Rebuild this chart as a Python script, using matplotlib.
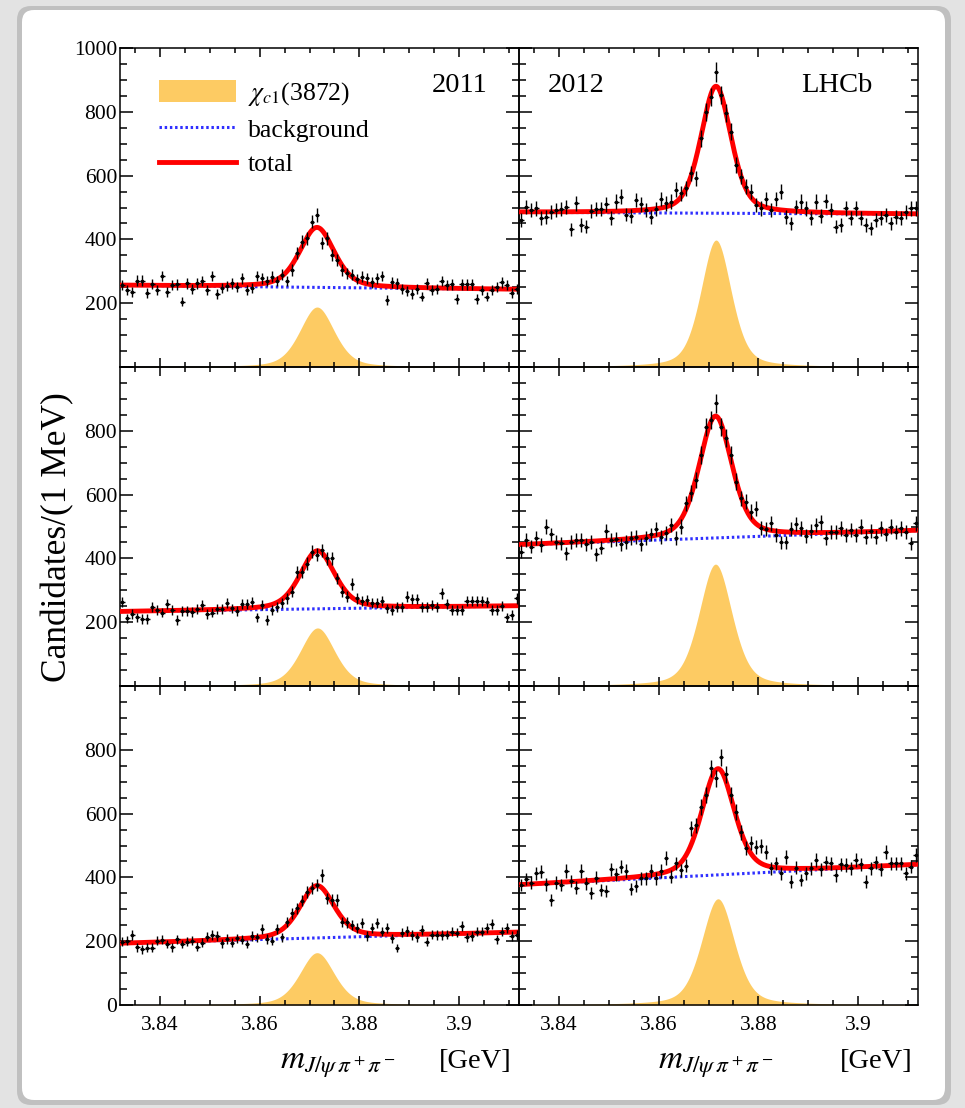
import numpy as np
import matplotlib.pyplot as plt
from matplotlib.patches import Patch, FancyBboxPatch
from matplotlib.lines import Line2D
from matplotlib.ticker import MultipleLocator

plt.rcParams['font.family'] = ['Liberation Serif', 'DejaVu Serif']
plt.rcParams['mathtext.fontset'] = 'stix'

# binning: 1 MeV bins between 3.832 and 3.912 GeV
mass_lo, mass_hi = 3.832, 3.912
n_bins = 80
bin_centres = mass_lo + 0.001 * (np.arange(n_bins) + 0.5)

# candidates per bin (rows: top, middle, bottom)
counts_2011_top = [257, 240, 236, 271, 271, 233, 260, 241, 285, 236,
                   257, 259, 205, 262, 245, 262, 270, 241, 285, 228,
                   247, 254, 262, 252, 278, 240, 249, 285, 278, 270,
                   283, 270, 289, 270, 304, 356, 393, 403, 456, 476,
                   389, 404, 351, 336, 304, 294, 289, 276, 283, 278,
                   265, 278, 285, 210, 265, 262, 245, 238, 228, 244,
                   221, 262, 241, 245, 270, 257, 259, 213, 259, 259,
                   259, 213, 241, 221, 240, 252, 265, 257, 231, 244]
counts_2012_top = [460, 502, 492, 497, 466, 471, 487, 492, 495, 502,
                   432, 513, 445, 440, 489, 495, 495, 510, 466, 518,
                   534, 478, 474, 523, 510, 492, 471, 495, 527, 513,
                   518, 555, 544, 560, 607, 591, 717, 800, 847, 925,
                   853, 795, 738, 633, 597, 565, 549, 508, 497, 527,
                   492, 527, 549, 471, 450, 502, 518, 497, 466, 518,
                   473, 520, 492, 440, 445, 497, 468, 497, 466, 445,
                   435, 461, 466, 476, 450, 471, 468, 487, 497, 497]
counts_2011_mid = [264, 212, 226, 215, 210, 210, 249, 238, 230, 257,
                   238, 207, 236, 236, 233, 240, 254, 226, 230, 240,
                   240, 261, 243, 236, 257, 257, 264, 215, 254, 207,
                   238, 247, 261, 275, 296, 358, 358, 384, 421, 411,
                   426, 400, 400, 337, 296, 280, 320, 275, 267, 270,
                   261, 261, 267, 243, 238, 247, 247, 280, 272, 272,
                   247, 247, 254, 247, 290, 257, 238, 238, 238, 267,
                   267, 267, 267, 264, 238, 238, 251, 215, 223, 275]
counts_2012_mid = [421, 458, 437, 463, 442, 500, 475, 452, 447, 416,
                   452, 458, 458, 444, 452, 413, 434, 486, 458, 461,
                   444, 452, 465, 468, 444, 465, 475, 492, 468, 479,
                   505, 463, 500, 573, 604, 646, 724, 813, 834, 886,
                   813, 778, 724, 641, 588, 578, 546, 555, 496, 492,
                   510, 473, 450, 450, 492, 507, 494, 471, 486, 505,
                   513, 463, 484, 484, 494, 473, 489, 473, 500, 468,
                   486, 468, 494, 475, 500, 484, 494, 484, 447, 510]
counts_2011_bot = [198, 201, 219, 181, 174, 180, 180, 201, 204, 191,
                   181, 206, 191, 198, 201, 183, 195, 214, 219, 216,
                   193, 207, 195, 209, 204, 191, 216, 212, 237, 207,
                   202, 238, 212, 261, 287, 303, 327, 355, 366, 376,
                   406, 334, 329, 329, 261, 259, 251, 240, 256, 216,
                   240, 258, 230, 240, 209, 178, 227, 233, 219, 212,
                   235, 198, 221, 219, 219, 221, 230, 227, 248, 212,
                   216, 230, 230, 240, 254, 206, 230, 240, 216, 219]
counts_2012_bot = [376, 395, 384, 413, 418, 378, 329, 384, 376, 420,
                   389, 368, 420, 381, 350, 399, 360, 357, 426, 410,
                   434, 420, 364, 374, 397, 397, 420, 397, 420, 460,
                   402, 444, 423, 437, 554, 564, 622, 658, 742, 711,
                   776, 723, 658, 606, 541, 493, 507, 496, 499, 481,
                   428, 444, 413, 465, 387, 430, 392, 413, 428, 454,
                   426, 447, 444, 407, 441, 439, 428, 454, 441, 387,
                   428, 447, 426, 479, 444, 444, 444, 413, 434, 470]

panel_counts = [counts_2011_top, counts_2012_top,
                counts_2011_mid, counts_2012_mid,
                counts_2011_bot, counts_2012_bot]

# fit results, same panel order
bkg_at_lo = [256, 485, 233, 442, 193, 376]
bkg_at_hi = [243, 479, 251, 487, 228, 440]
sig_peak = [188, 398, 182, 382, 164, 333]
sig_mass = [3.8715, 3.8715, 3.8716, 3.8714, 3.8715, 3.8719]
sig_fwhm = [0.0082, 0.0072, 0.0082, 0.0078, 0.0082, 0.0078]
lorentz_frac = 0.4

years = ['2011', '2012']
ytick_vals = [0, 200, 400, 600, 800, 1000]
ytick_text = [['', '200', '400', '600', '800', '1000'],
              ['', '200', '400', '600', '800', ''],
              ['0', '200', '400', '600', '800', '']]
xtick_vals = [3.84, 3.86, 3.88, 3.90]
xtick_text = ['3.84', '3.86', '3.88', '3.9']

c_sig = '#fdcb63'
c_bkg = '#2f2fff'
c_tot = '#ff0000'


def signal_shape(x, peak, m0, fwhm):
    t = (x - m0) / fwhm
    lor = 1.0 / (1.0 + 4.0 * t**2)
    gau = np.exp(-4.0 * np.log(2) * t**2)
    return peak * (lorentz_frac * lor + (1 - lorentz_frac) * gau)


fig = plt.figure(figsize=(9.65, 11.08), dpi=100, facecolor='#e3e3e3')
fig.patches.append(FancyBboxPatch((17, 3), 934, 1099, boxstyle='round,pad=0,rounding_size=14',
                                  transform=None, fc='#a9a9a9', ec='none', alpha=0.6, zorder=-3))
fig.patches.append(FancyBboxPatch((22, 8), 923, 1090, boxstyle='round,pad=0,rounding_size=12',
                                  transform=None, fc='white', ec='none', zorder=-2))

axes = fig.subplots(3, 2, gridspec_kw=dict(wspace=0, hspace=0))
fig.subplots_adjust(left=120/965, right=918/965, top=1-48/1108, bottom=1-1005/1108)

xfine = np.linspace(mass_lo, mass_hi, 801)
for k, ax in enumerate(axes.flat):
    row, col = divmod(k, 2)
    counts = np.array(panel_counts[k], dtype=float)
    bkg = bkg_at_lo[k] + (bkg_at_hi[k] - bkg_at_lo[k]) * (xfine - mass_lo) / (mass_hi - mass_lo)
    sig = signal_shape(xfine, sig_peak[k], sig_mass[k], sig_fwhm[k])

    ax.set_facecolor('none')
    ax.fill_between(xfine, 0, sig, color=c_sig, lw=0, zorder=1)
    ax.plot(xfine, bkg, color=c_bkg, lw=2.2, ls=(0, (0.8, 0.9)), zorder=2)
    ax.plot(xfine, bkg + sig, color=c_tot, lw=3.5, zorder=3)
    ax.errorbar(bin_centres, counts, yerr=np.sqrt(counts), xerr=0.00045,
                fmt='o', ms=1.6, color='black', elinewidth=1.0, capsize=0, zorder=4)

    ax.set_xlim(mass_lo, mass_hi)
    ax.set_ylim(0, 1000)
    ax.set_yticks(ytick_vals)
    ax.set_yticklabels(ytick_text[row] if col == 0 else [''] * len(ytick_vals))
    ax.set_xticks(xtick_vals)
    ax.set_xticklabels(xtick_text if row == 2 else [''] * len(xtick_vals))
    ax.xaxis.set_minor_locator(MultipleLocator(0.005))
    ax.yaxis.set_minor_locator(MultipleLocator(50))
    ax.tick_params(axis='both', which='both', direction='in', top=True, right=True,
                   width=1.1, labelsize=15.5)
    ax.tick_params(axis='y', which='major', length=9.4, pad=2.0)
    ax.tick_params(axis='y', which='minor', length=5.0)
    ax.tick_params(axis='x', which='major', length=6.5, pad=8)
    ax.tick_params(axis='x', which='minor', length=3.6)
    for sp in ax.spines.values():
        sp.set_linewidth(1.1)

top_l, top_r = axes[0, 0], axes[0, 1]
top_l.text(0.92, 0.882, years[0], transform=top_l.transAxes, ha='right', va='center', fontsize=20.5)
top_r.text(0.073, 0.882, years[1], transform=top_r.transAxes, ha='left', va='center', fontsize=20.5)
top_r.text(0.887, 0.882, 'LHCb', transform=top_r.transAxes, ha='right', va='center', fontsize=20.5)

handles = [Patch(facecolor=c_sig, edgecolor='none'),
           Line2D([], [], color=c_bkg, lw=2.2, ls=(0, (0.8, 0.9))),
           Line2D([], [], color=c_tot, lw=3.5)]
labels = [r'$\chi_{c1}$(3872)', 'background', 'total']
top_l.legend(handles, labels, loc='upper left', bbox_to_anchor=(0.098, 0.9), frameon=False,
             fontsize=18.5, handlelength=3.0, handleheight=0.9, handletextpad=0.45,
             labelspacing=0.38, borderaxespad=0, borderpad=0)

fig.text(58/965, 1-537/1108, 'Candidates/(1 MeV)', rotation=90, ha='center', va='center', fontsize=25.5)
for cx, rx in [(338, 512), (716, 913)]:
    fig.text(cx/965, 1-1068/1108, r'$m_{J/\psi\,\pi^+\pi^-}$', ha='center', va='baseline', fontsize=24)
    fig.text(rx/965, 1-1068/1108, '[GeV]', ha='right', va='baseline', fontsize=20.5)

fig.savefig('out.png', dpi=100, facecolor=fig.get_facecolor())
